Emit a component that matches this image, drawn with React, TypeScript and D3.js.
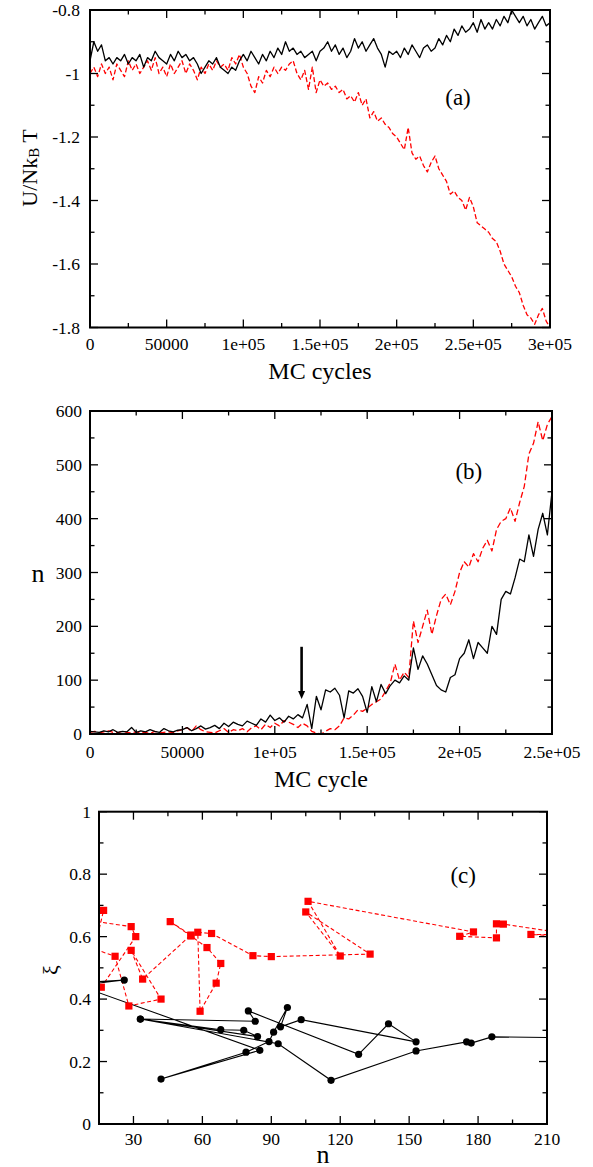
import * as d3 from "d3";

const FONT = '"Liberation Serif", "DejaVu Serif", serif';
const RED = "#ff0000";

// ---- panel (a): U/NkBT against MC cycles, one value every 2500 cycles
const STEP_A = 2500;
const energyBlack = [
  -0.96, -0.9, -0.93, -0.91, -0.96, -0.95, -0.97, -0.95, -0.96, -0.94,
  -0.97, -0.95, -0.96, -0.94, -0.98, -0.95, -0.96, -0.93, -0.95, -0.96,
  -0.97, -0.94, -0.96, -0.93, -0.95, -0.94, -0.96, -0.95, -0.97, -1.0,
  -0.98, -0.96, -0.97, -0.95, -0.98, -0.99, -1.0, -0.98, -0.99, -0.96,
  -0.94, -0.96, -0.93, -0.95, -0.97, -0.94, -0.96, -0.93, -0.95, -0.92,
  -0.94, -0.9, -0.93, -0.92, -0.94, -0.93, -0.95, -0.94, -0.93, -0.96,
  -0.93, -0.92, -0.9, -0.93, -0.91, -0.94, -0.92, -0.95, -0.93, -0.89,
  -0.92, -0.9, -0.93, -0.91, -0.89, -0.92, -0.94, -0.98, -0.93, -0.94,
  -0.93, -0.95, -0.92, -0.94, -0.91, -0.93, -0.95, -0.92, -0.91, -0.93,
  -0.92, -0.89, -0.91, -0.88, -0.9, -0.86, -0.88, -0.85, -0.87, -0.86,
  -0.84, -0.87, -0.83, -0.86, -0.84, -0.86, -0.83, -0.85, -0.82, -0.84,
  -0.8, -0.82, -0.84, -0.82, -0.85, -0.83, -0.86, -0.84, -0.82, -0.85,
  -0.84,
];
const energyRed = [
  -1.0, -0.98, -1.01, -0.97, -1.0, -0.98, -1.02, -0.97, -0.99, -1.01,
  -0.96, -0.99, -0.97, -1.0, -0.98, -0.96, -0.99, -0.95, -1.0, -0.98,
  -1.01, -0.97, -1.0, -0.98, -0.96, -1.0, -0.97, -0.99, -1.02, -0.98,
  -1.0, -0.97, -0.99, -0.96, -0.98, -0.97, -0.99, -0.95, -0.97, -0.94,
  -0.98, -1.0, -1.04, -1.06, -1.01, -1.03, -0.99, -1.01, -0.98, -1.0,
  -0.98, -0.99, -0.97, -0.96, -1.0, -1.02, -0.99, -1.05, -0.98, -1.06,
  -1.02, -1.04, -1.03, -1.05, -1.04, -1.06, -1.05, -1.08, -1.07, -1.09,
  -1.06, -1.1, -1.08, -1.14, -1.12, -1.15, -1.14, -1.16, -1.17, -1.19,
  -1.2, -1.22, -1.24, -1.17, -1.25, -1.27, -1.26, -1.29, -1.31, -1.28,
  -1.26, -1.3, -1.32, -1.34, -1.38, -1.37, -1.39, -1.4, -1.43, -1.39,
  -1.42, -1.47, -1.48, -1.49, -1.5, -1.52, -1.53, -1.56, -1.6, -1.62,
  -1.64, -1.67, -1.69, -1.73, -1.76, -1.77, -1.79, -1.76, -1.74, -1.78,
  -1.8,
];

// ---- panel (b): cluster size n against MC cycle, every 2500 cycles
const STEP_B = 2500;
const sizeBlack = [
  5, 4, 3, 6, 4, 8, 3, 5, 4, 12,
  3, 6, 4, 8, 5, 3, 10, 6, 4, 7,
  8, 12, 6, 10, 15, 9, 12, 16, 10, 20,
  14, 22, 18, 15, 24, 20, 16, 28, 22, 35,
  25, 30, 22, 33, 28, 36, 30, 55, 10, 70,
  45, 82, 78, 85, 72, 30, 80, 76, 84, 70,
  40, 88, 60, 92, 75, 90, 100, 95, 108, 100,
  160, 120, 145, 130, 110, 90, 82, 78, 105, 110,
  140, 150, 175, 140, 170, 160, 150, 200, 185, 250,
  265, 260, 290, 325, 320, 370, 330, 380, 410, 370,
  450,
];
const sizeRed = [
  3, 5, 2, 4, 6, 3, 2, 5, 3, 2,
  4, 2, 3, 1, 5, 2, 3, 4, 2, 6,
  8, 12, 5, 15, 8, 4, 3, 2, 6, 10,
  3, 8, 6, 10, 4, 12, 15, 8, 18, 12,
  20, 15, 25, 22, 18, 12, 20, 15, 5, 2,
  0, 5, 10, 8, 15, 30, 28, 35, 45, 42,
  48, 55, 60, 65, 80, 95, 130, 100, 115, 105,
  210, 170, 200, 230, 185, 220, 250, 260, 240, 265,
  300, 320, 310, 335, 320, 345, 360, 340, 380, 395,
  400, 420, 395, 430, 460, 520, 540, 580, 545, 575,
  590,
];
const arrowCycle = 114500;
const arrowFrom = 162;
const arrowTo = 65;

// ---- panel (c): xi against n, trajectories (points outside the frame are clipped)
const xiBlack: [number, number][] = [
  [5, 0.452], [26, 0.461], [6, 0.444], [85, 0.236], [42, 0.144], [79, 0.23],
  [89, 0.264], [91, 0.294], [97, 0.373], [94, 0.311], [103, 0.334], [153, 0.263],
  [141, 0.321], [128, 0.223], [80, 0.362], [83, 0.329], [33, 0.336], [68, 0.302],
  [78, 0.3], [84, 0.28], [33, 0.336], [93, 0.257], [116, 0.14], [153, 0.234],
  [175, 0.263], [177, 0.259], [186, 0.279], [230, 0.275],
];
const xiRed: [number, number][] = [
  [12, 0.405], [16, 0.438], [31, 0.6], [29, 0.632], [12, 0.65], [17, 0.684],
  [13, 0.56], [22, 0.537], [28, 0.378], [42, 0.4], [29, 0.556], [34, 0.464],
  [55, 0.605], [46, 0.648], [55, 0.602], [62, 0.565], [68, 0.514], [66, 0.451],
  [59, 0.361], [58, 0.614], [64, 0.61], [82, 0.539], [90, 0.536], [133, 0.544],
  [105, 0.679], [120, 0.538], [106, 0.713], [178, 0.615], [172, 0.601], [188, 0.596],
  [188, 0.641], [191, 0.64], [230, 0.597], [203, 0.607], [230, 0.605],
];

// ---- ticks
const aXMajor = [0, 50000, 100000, 150000, 200000, 250000, 300000];
const aXLabels = ["0", "50000", "1e+05", "1.5e+05", "2e+05", "2.5e+05", "3e+05"];
const aXMinor = [25000, 75000, 125000, 175000, 225000, 275000];
const aYMajor = [-0.8, -1, -1.2, -1.4, -1.6, -1.8];
const aYLabels = ["-0.8", "-1", "-1.2", "-1.4", "-1.6", "-1.8"];
const aYMinor = [-0.9, -1.1, -1.3, -1.5, -1.7];

const bXMajor = [0, 50000, 100000, 150000, 200000, 250000];
const bXLabels = ["0", "50000", "1e+05", "1.5e+05", "2e+05", "2.5e+05"];
const bXMinor = [25000, 75000, 125000, 175000, 225000];
const bYMajor = [0, 100, 200, 300, 400, 500, 600];
const bYLabels = ["0", "100", "200", "300", "400", "500", "600"];
const bYMinor = [50, 150, 250, 350, 450, 550];

const cXMajor = [30, 60, 90, 120, 150, 180, 210];
const cXLabels = ["30", "60", "90", "120", "150", "180", "210"];
const cXMinor = [45, 75, 105, 135, 165, 195];
const cYMajor = [0, 0.2, 0.4, 0.6, 0.8, 1];
const cYLabels = ["0", "0.2", "0.4", "0.6", "0.8", "1"];
const cYMinor = [0.1, 0.3, 0.5, 0.7, 0.9];

type Scale = d3.ScaleLinear<number, number>;

interface FrameProps {
  x: Scale;
  y: Scale;
  xMajor: number[];
  xLabels: string[];
  xMinor: number[];
  yMajor: number[];
  yLabels: string[];
  yMinor: number[];
  xLabelGap: number;
  yLabelGap: number;
}

function Frame({ x, y, xMajor, xLabels, xMinor, yMajor, yLabels, yMinor, xLabelGap, yLabelGap }: FrameProps) {
  const [x0, x1] = x.range();
  const [yb, yt] = y.range();
  const MAJ = 8;
  const MIN = 4.5;
  return (
    <g>
      <g stroke="#000" strokeWidth={1.3}>
        {xMajor.map((v) => (
          <g key={"xM" + v}>
            <line x1={x(v)} x2={x(v)} y1={yb} y2={yb - MAJ} />
            <line x1={x(v)} x2={x(v)} y1={yt} y2={yt + MAJ} />
          </g>
        ))}
        {xMinor.map((v) => (
          <g key={"xm" + v}>
            <line x1={x(v)} x2={x(v)} y1={yb} y2={yb - MIN} />
            <line x1={x(v)} x2={x(v)} y1={yt} y2={yt + MIN} />
          </g>
        ))}
        {yMajor.map((v) => (
          <g key={"yM" + v}>
            <line x1={x0} x2={x0 + MAJ} y1={y(v)} y2={y(v)} />
            <line x1={x1} x2={x1 - MAJ} y1={y(v)} y2={y(v)} />
          </g>
        ))}
        {yMinor.map((v) => (
          <g key={"ym" + v}>
            <line x1={x0} x2={x0 + MIN} y1={y(v)} y2={y(v)} />
            <line x1={x1} x2={x1 - MIN} y1={y(v)} y2={y(v)} />
          </g>
        ))}
      </g>
      <rect x={x0} y={yt} width={x1 - x0} height={yb - yt} fill="none" stroke="#000" strokeWidth={2} />
      <g style={{ fontFamily: FONT }} fontSize={17.5} fill="#000">
        {xMajor.map((v, i) => (
          <text key={"xl" + v} x={x(v)} y={yb + xLabelGap} textAnchor="middle" dominantBaseline="central">
            {xLabels[i]}
          </text>
        ))}
        {yMajor.map((v, i) => (
          <text key={"yl" + v} x={x0 - yLabelGap} y={y(v)} textAnchor="end" dominantBaseline="central">
            {yLabels[i]}
          </text>
        ))}
      </g>
    </g>
  );
}

export default function App() {
  // panel (a)
  const xA = d3.scaleLinear().domain([0, 300000]).range([90, 550]);
  const yA = d3.scaleLinear().domain([-1.8, -0.8]).range([327.5, 10]);
  const lineA = d3
    .line<number>()
    .x((_, i) => xA(i * STEP_A))
    .y((d) => yA(d));

  // panel (b)
  const xB = d3.scaleLinear().domain([0, 250000]).range([90, 552]);
  const yB = d3.scaleLinear().domain([0, 600]).range([734, 411]);
  const lineB = d3
    .line<number>()
    .x((_, i) => xB(i * STEP_B))
    .y((d) => yB(d));

  // panel (c)
  const xC = d3.scaleLinear().domain([15, 210]).range([99, 547]);
  const yC = d3.scaleLinear().domain([0, 1]).range([1124, 811.7]);
  const lineC = d3
    .line<[number, number]>()
    .x((d) => xC(d[0]))
    .y((d) => yC(d[1]));
  const inC = (d: [number, number]) => d[0] >= 15 && d[0] <= 210;

  const ax = xB(arrowCycle);
  const txt = { fontFamily: FONT };

  return (
    <svg
      width={593}
      height={1167}
      viewBox="0 0 593 1167"
      style={{ position: "absolute", left: 0, top: 0, background: "#fff" }}
    >
      <defs>
        <clipPath id="clipA">
          <rect x={90} y={10} width={460} height={317.5} />
        </clipPath>
        <clipPath id="clipB">
          <rect x={90} y={411} width={462} height={323} />
        </clipPath>
        <clipPath id="clipC">
          <rect x={99} y={811.7} width={448} height={312.3} />
        </clipPath>
      </defs>
      <rect width={593} height={1167} fill="#fff" />

      {/* (a) */}
      <g clipPath="url(#clipA)" fill="none" strokeWidth={1.3} strokeLinejoin="round">
        <path d={lineA(energyRed) ?? ""} stroke={RED} strokeDasharray="5,2.5" />
        <path d={lineA(energyBlack) ?? ""} stroke="#000" />
      </g>
      <Frame
        x={xA}
        y={yA}
        xMajor={aXMajor}
        xLabels={aXLabels}
        xMinor={aXMinor}
        yMajor={aYMajor}
        yLabels={aYLabels}
        yMinor={aYMinor}
        xLabelGap={16}
        yLabelGap={10}
      />
      <g style={txt} fill="#000">
        <text x={xA(240000)} y={yA(-1.076)} fontSize={23} textAnchor="middle" dominantBaseline="central">
          (a)
        </text>
        <text x={320} y={371} fontSize={24} textAnchor="middle" dominantBaseline="central">
          MC cycles
        </text>
        <text transform="translate(29,168) rotate(-90)" fontSize={22} textAnchor="middle" dominantBaseline="central">
          U/Nk
          <tspan fontSize={15} dy={5}>
            B
          </tspan>
          <tspan dy={-5}> T</tspan>
        </text>
      </g>

      {/* (b) */}
      <g clipPath="url(#clipB)" fill="none" strokeWidth={1.3} strokeLinejoin="round">
        <path d={lineB(sizeRed) ?? ""} stroke={RED} strokeDasharray="6,3" />
        <path d={lineB(sizeBlack) ?? ""} stroke="#000" />
      </g>
      <line x1={ax} x2={ax} y1={yB(arrowFrom)} y2={yB(arrowTo) - 7} stroke="#000" strokeWidth={2.6} />
      <path
        d={`M${ax - 3.5},${yB(arrowTo) - 8} L${ax + 3.5},${yB(arrowTo) - 8} L${ax},${yB(arrowTo)} Z`}
        fill="#000"
      />
      <Frame
        x={xB}
        y={yB}
        xMajor={bXMajor}
        xLabels={bXLabels}
        xMinor={bXMinor}
        yMajor={bYMajor}
        yLabels={bYLabels}
        yMinor={bYMinor}
        xLabelGap={17.5}
        yLabelGap={8}
      />
      <g style={txt} fill="#000">
        <text x={xB(205000)} y={yB(487)} fontSize={23} textAnchor="middle" dominantBaseline="central">
          (b)
        </text>
        <text x={321} y={779} fontSize={24} textAnchor="middle" dominantBaseline="central">
          MC cycle
        </text>
        <text x={38} y={573} fontSize={26} textAnchor="middle" dominantBaseline="central">
          n
        </text>
      </g>

      {/* (c) */}
      <g clipPath="url(#clipC)" fill="none" strokeWidth={1.1}>
        <path d={lineC(xiRed) ?? ""} stroke={RED} strokeDasharray="4,2.5" />
        <path d={lineC(xiBlack) ?? ""} stroke="#000" />
      </g>
      <g clipPath="url(#clipC)">
        {xiRed.filter(inC).map((d, i) => (
          <rect key={"r" + i} x={xC(d[0]) - 3.6} y={yC(d[1]) - 3.6} width={7.2} height={7.2} fill={RED} />
        ))}
        {xiBlack.filter(inC).map((d, i) => (
          <circle key={"b" + i} cx={xC(d[0])} cy={yC(d[1])} r={3.6} fill="#000" />
        ))}
      </g>
      <Frame
        x={xC}
        y={yC}
        xMajor={cXMajor}
        xLabels={cXLabels}
        xMinor={cXMinor}
        yMajor={cYMajor}
        yLabels={cYLabels}
        yMinor={cYMinor}
        xLabelGap={14.5}
        yLabelGap={8}
      />
      <g style={txt} fill="#000">
        <text x={xC(173.5)} y={yC(0.795)} fontSize={23} textAnchor="middle" dominantBaseline="central">
          (c)
        </text>
        <text x={323} y={1154} fontSize={26} textAnchor="middle" dominantBaseline="central">
          n
        </text>
        <text transform="translate(50,970) rotate(-90)" fontSize={22} textAnchor="middle" dominantBaseline="central">
          ξ
        </text>
      </g>
    </svg>
  );
}
